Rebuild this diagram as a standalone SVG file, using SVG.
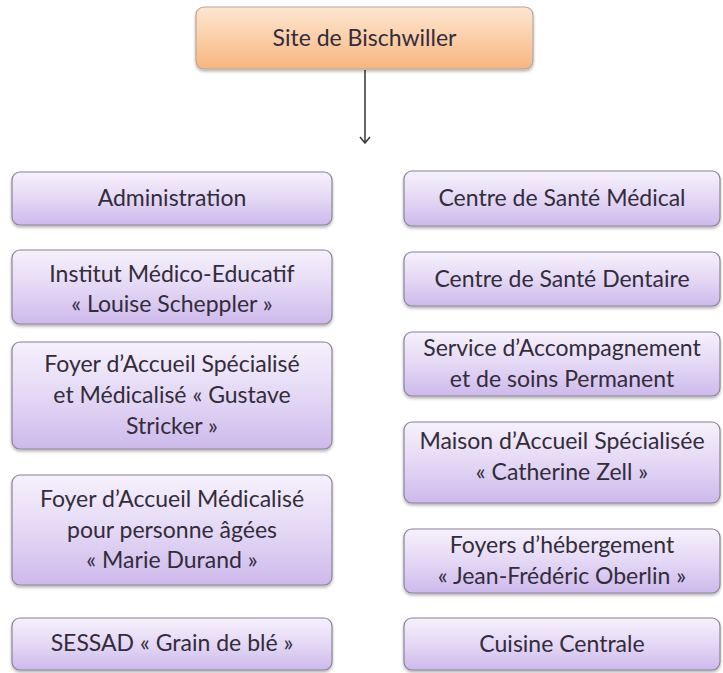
<svg xmlns="http://www.w3.org/2000/svg" width="723" height="673" viewBox="0 0 723 673">
<defs>
<linearGradient id="gp" x1="0" y1="0" x2="0" y2="1">
<stop offset="0" stop-color="#f6f1fc"/>
<stop offset="0.5" stop-color="#e4d8f5"/>
<stop offset="1" stop-color="#cdb9ec"/>
</linearGradient>
<linearGradient id="go" x1="0" y1="0" x2="0" y2="1">
<stop offset="0" stop-color="#fde6d2"/>
<stop offset="0.5" stop-color="#fbcfa9"/>
<stop offset="1" stop-color="#f7b47f"/>
</linearGradient>
<filter id="sh" x="-5%" y="-10%" width="110%" height="130%">
<feGaussianBlur in="SourceAlpha" stdDeviation="1.5"/>
<feOffset dx="0" dy="2" result="b"/>
<feComponentTransfer><feFuncA type="linear" slope="0.3"/></feComponentTransfer>
<feMerge><feMergeNode/><feMergeNode in="SourceGraphic"/></feMerge>
</filter>
<marker id="ah" viewBox="0 0 12 12" refX="11" refY="6" markerWidth="12" markerHeight="12" markerUnits="userSpaceOnUse" orient="auto">
<path d="M5,1 L11,6 L5,11" fill="none" stroke="#333" stroke-width="1.5"/>
</marker>
</defs>
<style>
.b{fill:url(#gp);stroke:#8c8296;stroke-width:1.2;filter:url(#sh)}
.o{fill:url(#go);stroke:#b8a89a;stroke-width:1.2;filter:url(#sh)}
text{font-family:Lato,"Open Sans","Liberation Sans",sans-serif;font-size:23px;fill:#332c3a;text-anchor:middle}
</style>
<rect width="723" height="673" fill="#ffffff"/>
<g id="connectors">
<line x1="365" y1="70" x2="365" y2="143" stroke="#333" stroke-width="1.5" marker-end="url(#ah)"/>
</g>
<g id="site"><rect class="o" x="196" y="7" width="337" height="62" rx="8"/><text x="364.5" y="46">Site de Bischwiller</text></g>
<g id="administration"><rect class="b" x="12" y="172" width="320" height="53" rx="8"/><text x="172" y="206">Administration</text></g>
<g id="ime"><rect class="b" x="12" y="250" width="320" height="74" rx="8"/><text x="172" y="282">Institut Médico-Educatif</text><text x="172" y="312">« Louise Scheppler »</text></g>
<g id="fas"><rect class="b" x="12" y="342" width="320" height="107" rx="8"/><text x="172" y="372">Foyer d’Accueil Spécialisé</text><text x="172" y="403">et Médicalisé « Gustave</text><text x="172" y="434">Stricker »</text></g>
<g id="fam"><rect class="b" x="12" y="475" width="320" height="110" rx="8"/><text x="172" y="507">Foyer d’Accueil Médicalisé</text><text x="172" y="538">pour personne âgées</text><text x="172" y="568">« Marie Durand »</text></g>
<g id="sessad"><rect class="b" x="12" y="618" width="320" height="52" rx="8"/><text x="172" y="651">SESSAD « Grain de blé »</text></g>
<g id="csm"><rect class="b" x="404" y="171" width="316" height="55" rx="8"/><text x="562" y="206">Centre de Santé Médical</text></g>
<g id="csd"><rect class="b" x="404" y="252" width="316" height="54" rx="8"/><text x="562" y="287">Centre de Santé Dentaire</text></g>
<g id="sasp"><rect class="b" x="404" y="332" width="316" height="64" rx="8"/><text x="562" y="356">Service d’Accompagnement</text><text x="562" y="387">et de soins Permanent</text></g>
<g id="mas"><rect class="b" x="404" y="422" width="316" height="81" rx="8"/><text x="562" y="449">Maison d’Accueil Spécialisée</text><text x="562" y="480">« Catherine Zell »</text></g>
<g id="foyers"><rect class="b" x="404" y="529" width="316" height="64" rx="8"/><text x="562" y="553">Foyers d’hébergement</text><text x="562" y="584">« Jean-Frédéric Oberlin »</text></g>
<g id="cuisine"><rect class="b" x="404" y="618" width="316" height="52" rx="8"/><text x="562" y="652">Cuisine Centrale</text></g>
</svg>
